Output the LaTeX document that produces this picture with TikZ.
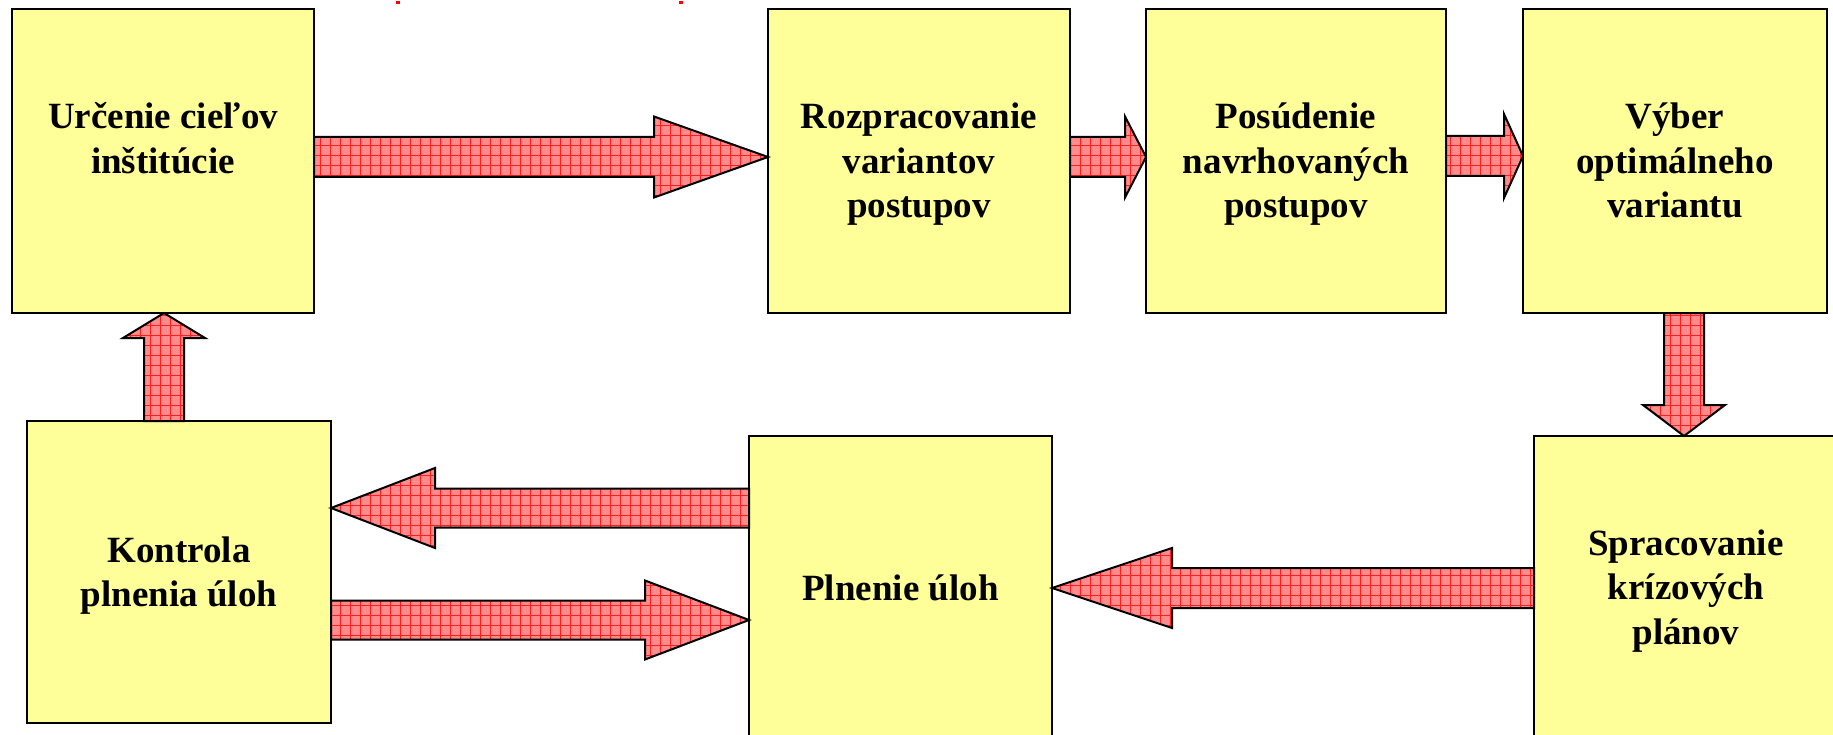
\documentclass[tikz,border=0pt]{standalone}
\usepackage{fontspec}
\setmainfont{Liberation Serif}
\usetikzlibrary{calc,patterns.meta}
\definecolor{boxyellow}{RGB}{255,255,153}
\definecolor{arrowpink}{RGB}{255,140,140}
\definecolor{gridred}{RGB}{255,30,30}
\tikzset{
  box/.style={draw=black, line width=2.5pt, fill=boxyellow, rectangle,
    inner sep=0pt, outer sep=0pt, anchor=north west},
  lbl/.style={anchor=base, inner sep=0pt,
    font=\fontsize{37}{44.5}\selectfont\bfseries},
  blockarr/.style={draw=black, line width=2pt, line join=miter,
    preaction={fill=arrowpink},
    preaction={pattern={Hatch[distance=10pt,angle=0,line width=0.8pt]},
      pattern color=gridred}}
}
% horizontal block arrow: tail, tip, signed head length, shaft half width, head half width
\newcommand\harrow[5]{%
  \draw[blockarr] let \p1=(#1), \p2=(#2) in
    (\x1,{\y1+#4pt}) -- ({\x2-(#3pt)},{\y1+#4pt}) -- ({\x2-(#3pt)},{\y1+#5pt})
    -- (\x2,\y1) -- ({\x2-(#3pt)},{\y1-#5pt}) -- ({\x2-(#3pt)},{\y1-#4pt})
    -- (\x1,{\y1-#4pt}) -- cycle;}
% vertical block arrow
\newcommand\varrow[5]{%
  \draw[blockarr] let \p1=(#1), \p2=(#2) in
    ({\x1+#4pt},\y1) -- ({\x1+#4pt},{\y2-(#3pt)}) -- ({\x1+#5pt},{\y2-(#3pt)})
    -- (\x1,\y2) -- ({\x1-#5pt},{\y2-(#3pt)}) -- ({\x1-#4pt},{\y2-(#3pt)})
    -- ({\x1-#4pt},\y1) -- cycle;}
\begin{document}
\begin{tikzpicture}[x=1pt,y=-1pt]
\useasboundingbox (0,0) rectangle (1833,735);
\clip (0,0) rectangle (1833,735);
\fill[white] (0,0) rectangle (1833,735);

% boxes
\node[box, minimum width=302pt, minimum height=304pt] (b1) at (12,9) {};
\node[box, minimum width=302pt, minimum height=304pt] (b2) at (768,9) {};
\node[box, minimum width=300pt, minimum height=304pt] (b3) at (1146,9) {};
\node[box, minimum width=304pt, minimum height=304pt] (b4) at (1523,9) {};
\node[box, minimum width=304pt, minimum height=302pt] (b5) at (27,421) {};
\node[box, minimum width=303pt, minimum height=330pt] (b6) at (749,436) {};
\node[box, minimum width=304pt, minimum height=330pt] (b7) at (1534,436) {};

% labels
\node[lbl] (t1) at (163,129) {\begin{tabular}[t]{@{}c@{}}Určenie cieľov\\inštitúcie\end{tabular}};
\node[lbl] (t2) at (919,129) {\begin{tabular}[t]{@{}c@{}}Rozpracovanie\\variantov\\postupov\end{tabular}};
\node[lbl] (t3) at (1296,129) {\begin{tabular}[t]{@{}c@{}}Posúdenie\\navrhovaných\\postupov\end{tabular}};
\node[lbl] (t4) at (1675,129) {\begin{tabular}[t]{@{}c@{}}Výber\\optimálneho\\variantu\end{tabular}};
\node[lbl] (t5) at (179,562) {\begin{tabular}[t]{@{}c@{}}Kontrola\\plnenia úloh\end{tabular}};
\node[lbl] (t6) at (900.5,600) {Plnenie úloh};
\node[lbl] (t7) at (1686,555) {\begin{tabular}[t]{@{}c@{}}Spracovanie\\krízových\\plánov\end{tabular}};

% arrows
\harrow{b1.east |- 0,157}{b2.west |- 0,157}{114}{20}{40.5}
\harrow{b2.east |- 0,157}{b3.west |- 0,157}{21}{20}{40.5}
\harrow{b3.east |- 0,156}{b4.west |- 0,156}{19}{20}{42}
\varrow{1684,0 |- b4.south}{1684,0 |- b7.north}{-31}{20}{41}
\varrow{164,0 |- b5.north}{164,0 |- b1.south}{25}{20}{41}
\harrow{b6.west |- 0,508}{b5.east |- 0,508}{-104}{19.5}{40}
\harrow{b5.east |- 0,620}{b6.west |- 0,620}{104}{19.5}{39.5}
\harrow{b7.west |- 0,588}{b6.east |- 0,588}{-120}{20}{40}

% small red marks at the top edge
\fill[red] (396,1) rectangle (400,4);
\fill[red] (679,1) rectangle (683,4);
\end{tikzpicture}
\end{document}
